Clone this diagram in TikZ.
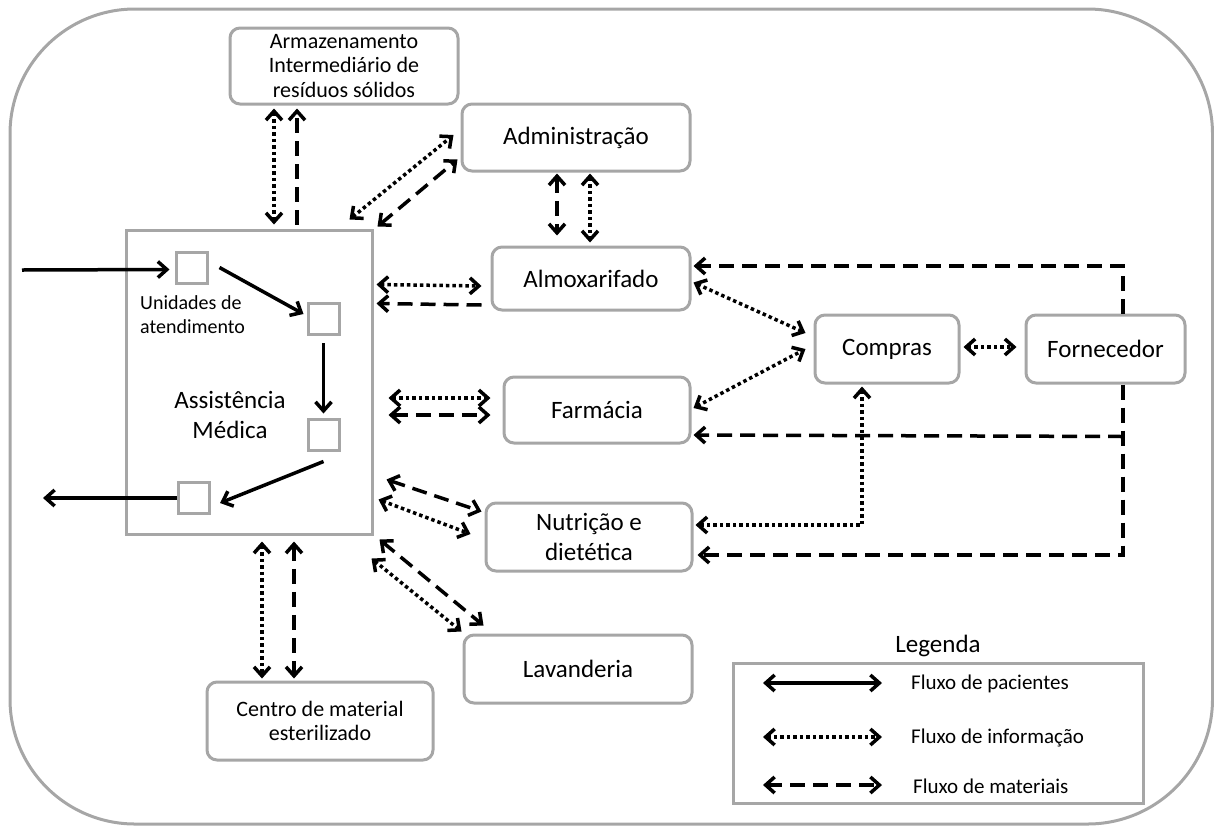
\documentclass[tikz,border=0pt]{standalone}
\usepackage{fontspec}
\setmainfont{Carlito}
\usetikzlibrary{arrows.meta,calc}
\definecolor{boxgray}{HTML}{A6A6A6}
\tikzset{
  frame/.style={draw=boxgray, line width=3pt},
  box/.style={draw=boxgray, line width=3pt, rounded corners=10pt, fill=white, align=center, inner sep=0pt, font=\fontsize{25}{30}\selectfont},
  smallbox/.style={box, font=\fontsize{22}{24.5}\selectfont},
  sq/.style={draw=boxgray, line width=3pt, minimum size=31pt, inner sep=0pt},
  flow/.style={line width=3.5pt, draw=black},
  pat/.style={flow},
  info/.style={flow, dash pattern=on 3.5pt off 3pt},
  mat/.style={flow, dash pattern=on 15pt off 8pt},
  lbl/.style={inner sep=0pt, font=\fontsize{25}{30}\selectfont, align=center},
  leg/.style={inner sep=0pt, anchor=west, font=\fontsize{21}{24}\selectfont},
}
\begin{document}
\begin{tikzpicture}[x=1pt,y=-1pt,>={Straight Barb[length=9pt,width=16pt]}]
\useasboundingbox (0,0) rectangle (1214,825);
\draw[frame, rounded corners=125pt] (10,9) rectangle (1212.5,824);

% main block
\node[frame, minimum width=246pt, minimum height=304pt, inner sep=0pt] (ast) at (249,382) {};
\node[lbl] (astl) at (230,415) {Assistência\\Médica};
\node[inner sep=0pt, align=left, anchor=west, font=\fontsize{20}{24}\selectfont] (unid) at (140,315) {Unidades de\\atendimento};
\node[sq] (sq1) at (191.5,267.5) {};
\node[sq] (sq2) at (323.5,319) {};
\node[sq] (sq3) at (323.5,434.5) {};
\node[sq] (sq4) at (194,498) {};
\coordinate (in) at (22,270);
\coordinate (out) at (43,498);

% boxes
\node[smallbox, minimum width=228pt, minimum height=76pt] (arm) at (344,66) {Armazenamento\\Intermediário de\\resíduos sólidos};
\node[box, minimum width=228pt, minimum height=67pt] (adm) at (576,137.5) {Administração};
\node[box, minimum width=198pt, minimum height=63pt] (alm) at (591,278.5) {Almoxarifado};
\node[box, minimum width=186pt, minimum height=66pt] (far) at (597,410) {Farmácia};
\node[box, minimum width=144pt, minimum height=68pt] (com) at (887,349) {Compras};
\node[box, minimum width=159pt, minimum height=68pt] (for) at (1105.5,349) {Fornecedor};
\node[box, minimum width=206pt, minimum height=68pt] (nut) at (589,537) {Nutrição e\\dietética};
\node[box, minimum width=228pt, minimum height=68pt] (lav) at (578,669) {Lavanderia};
\node[smallbox, minimum width=226pt, minimum height=78pt] (cen) at (320,721) {Centro de material\\esterilizado};

% patient flow
\draw[pat,->] (in) -- ($(sq1.west)+(-5,2)$);
\draw[pat,->] ($(sq1.east)+(11,0)$) -- ($(sq2.west)+(-3,-5)$);
\draw[pat,->] ($(sq2.south)+(0,7)$) -- ($(sq3.north)+(0,-4)$);
\draw[pat,->] ($(sq3.south)+(0,10)$) -- ($(sq4.east)+(9,5)$);
\draw[pat,->] (sq4.west) -- (out);

% Armazenamento
\draw[info,<->] ($(arm.south)+(-70,3)$) -- ($(ast.north)+(25,-4)$);
\draw[mat,->] ($(ast.north)+(48,-4)$) -- ($(arm.south)+(-47,3)$);
% Administracao
\draw[info,<->] ($(ast.north east)+(-24,-9)$) -- ($(adm.west)+(-7,-2.5)$);
\draw[mat,<->] ($(ast.north east)+(4,-2)$) -- ($(adm.south west)+(-3,-13)$);
\draw[mat,<->] ($(adm.south)+(-19,1)$) -- ($(alm.north)+(-34,-10)$);
\draw[info,<->] ($(adm.south)+(14,1)$) -- ($(alm.north)+(-1,-3)$);
% Almoxarifado
\draw[info,<->] ($(ast.north east)+(3,56)$) -- ($(alm.west)+(-9,7.5)$);
\draw[mat,->] ($(alm.west)+(-9,26.5)$) -- ($(ast.north east)+(3,75)$);
% Farmacia
\draw[info,<->] ($(ast.east)+(15,16)$) -- ($(far.west)+(-12,-12)$);
\draw[mat,<->] ($(ast.east)+(15,33)$) -- ($(far.west)+(-12,5)$);
% Nutricao
\draw[mat,<->] ($(ast.south east)+(13,-56)$) -- ($(nut.north west)+(-3,10)$);
\draw[info,<->] ($(ast.south east)+(5,-36)$) -- ($(nut.west)+(-14,-3)$);
% Lavanderia
\draw[mat,<->] ($(ast.south east)+(6,4)$) -- ($(lav.north west)+(21,-8)$);
\draw[info,<->] ($(ast.south east)+(-2,23)$) -- ($(lav.north west)+(-1,-2)$);
% Centro
\draw[info,<->] ($(ast.south)+(13,6)$) -- ($(cen.north)+(-58,-2)$);
\draw[mat,<->] ($(ast.south)+(45,6)$) -- ($(cen.north)+(-26,-2)$);
% Compras
\draw[info,<->] ($(alm.east)+(2,4)$) -- ($(com.west)+(-8,-16)$);
\draw[info,<->] ($(far.east)+(2,-2)$) -- ($(com.west)+(-8,0)$);
\draw[info,<->] ($(com.east)+(3,-2)$) -- ($(for.west)+(-8,-2)$);
\draw[info,<->] ($(com.south)+(-25,2)$) |- ($(nut.east)+(2,-12)$);
% Fornecedor
\draw[mat,->] ($(for.north)+(17.5,0)$) |- ($(alm.east)+(2,-12.5)$);
\draw[mat,->] ($(for.south)+(17.5,0)$) |- ($(nut.east)+(4,18)$);
\draw[mat,->] ($(for.south)+(17.5,52)$) -- ($(far.east)+(2,25)$);

% legend
\node[lbl] (legt) at (938,646) {Legenda};
\node[frame, minimum width=410pt, minimum height=140pt, inner sep=0pt] (legbox) at (938,733) {};
\coordinate (l1a) at (763,683); \coordinate (l1b) at (882,683);
\coordinate (l2a) at (763,737); \coordinate (l2b) at (882,737);
\coordinate (l3a) at (763,785); \coordinate (l3b) at (882,785);
\draw[pat,<->] (l1a) -- (l1b);
\draw[info,<->] (l2a) -- (l2b);
\draw[mat,<->] (l3a) -- (l3b);
\node[leg] (t1) at (911,684) {Fluxo de pacientes};
\node[leg] (t2) at (911,738) {Fluxo de informação};
\node[leg] (t3) at (913,786) {Fluxo de materiais};
\end{tikzpicture}
\end{document}
